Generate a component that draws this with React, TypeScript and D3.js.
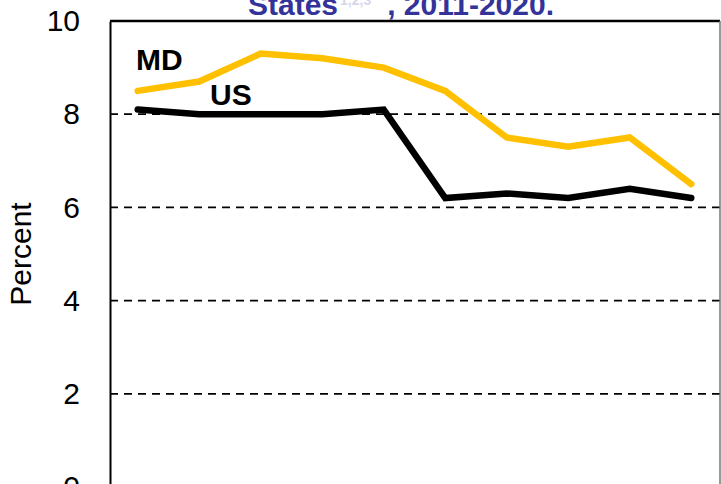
import React, { useRef, useEffect } from 'react';
import { select, scalePoint, scaleLinear, line, axisLeft } from 'd3';

const years = ['2011', '2012', '2013', '2014', '2015', '2016', '2017', '2018', '2019', '2020'];
const mdValues = [8.5, 8.7, 9.3, 9.2, 9.0, 8.5, 7.5, 7.3, 7.5, 6.5];
const usValues = [8.1, 8.0, 8.0, 8.0, 8.1, 6.2, 6.3, 6.2, 6.4, 6.2];
const yTicks = [0, 2, 4, 6, 8, 10];

const FONT = '"Liberation Sans", Arial, sans-serif';

const App = () => {
  const svgRef = useRef<SVGSVGElement>(null);

  useEffect(() => {
    const svg = select(svgRef.current);
    svg.selectAll('*').remove();

    const left = 110;
    const right = 720;

    const xScale = scalePoint<string>()
      .domain(years)
      .range([107, 722])
      .padding(0.5);

    const yScale = scaleLinear()
      .domain([0, 10])
      .range([487, 21]);

    // title (cut off at the top, as in the source)
    const title = svg.append('text')
      .attr('x', 248)
      .attr('y', 15)
      .attr('font-family', FONT)
      .attr('font-weight', 'bold')
      .attr('font-size', 30)
      .attr('fill', '#333399');
    title.append('tspan').text('States');
    title.append('tspan')
      .attr('font-size', 14)
      .attr('dy', -10)
      .attr('dx', 2)
      .attr('fill', '#d6d6ea')
      .text('1,2,3');
    title.append('tspan')
      .attr('dy', 10)
      .attr('dx', 16)
      .text(', 2011-2020.');

    // dashed gridlines
    svg.append('g')
      .selectAll('line')
      .data(yTicks.filter(d => d > 0 && d < 10))
      .join('line')
      .attr('x1', left)
      .attr('x2', right)
      .attr('y1', d => yScale(d))
      .attr('y2', d => yScale(d))
      .attr('stroke', '#000')
      .attr('stroke-width', 1.75)
      .attr('stroke-dasharray', '8,6');

    // frame
    svg.append('line')
      .attr('x1', left).attr('x2', right)
      .attr('y1', yScale(10)).attr('y2', yScale(10))
      .attr('stroke', '#000').attr('stroke-width', 2.5);
    svg.append('line')
      .attr('x1', right).attr('x2', right)
      .attr('y1', yScale(10)).attr('y2', yScale(0))
      .attr('stroke', '#777').attr('stroke-width', 1.5);

    // y-axis
    const yAxis = svg.append('g')
      .attr('transform', `translate(${left},0)`)
      .call(axisLeft(yScale).tickValues(yTicks).tickSize(0).tickPadding(30));
    yAxis.select('.domain').attr('stroke', '#000').attr('stroke-width', 2);
    yAxis.selectAll('text')
      .attr('font-family', FONT)
      .attr('font-size', 30)
      .attr('fill', '#000');

    svg.append('text')
      .attr('transform', `translate(31,${yScale(5)}) rotate(-90)`)
      .attr('text-anchor', 'middle')
      .attr('font-family', FONT)
      .attr('font-size', 30)
      .attr('fill', '#000')
      .text('Percent');

    const lineGen = line<number>()
      .x((d, i) => xScale(years[i]) as number)
      .y(d => yScale(d));

    svg.append('path')
      .attr('d', lineGen(mdValues))
      .attr('fill', 'none')
      .attr('stroke', '#FFC000')
      .attr('stroke-width', 6.5)
      .attr('stroke-linecap', 'round');

    svg.append('path')
      .attr('d', lineGen(usValues))
      .attr('fill', 'none')
      .attr('stroke', '#000')
      .attr('stroke-width', 6.5)
      .attr('stroke-linecap', 'round');

    // series labels
    svg.append('text')
      .attr('x', 136).attr('y', 70)
      .attr('font-family', FONT).attr('font-weight', 'bold').attr('font-size', 30)
      .text('MD');
    svg.append('text')
      .attr('x', 210).attr('y', 105)
      .attr('font-family', FONT).attr('font-weight', 'bold').attr('font-size', 30)
      .text('US');
  }, []);

  return (
    <svg
      ref={svgRef}
      width={721}
      height={484}
      style={{ position: 'absolute', left: 0, top: 0, background: '#fff' }}
    />
  );
};

export default App;
